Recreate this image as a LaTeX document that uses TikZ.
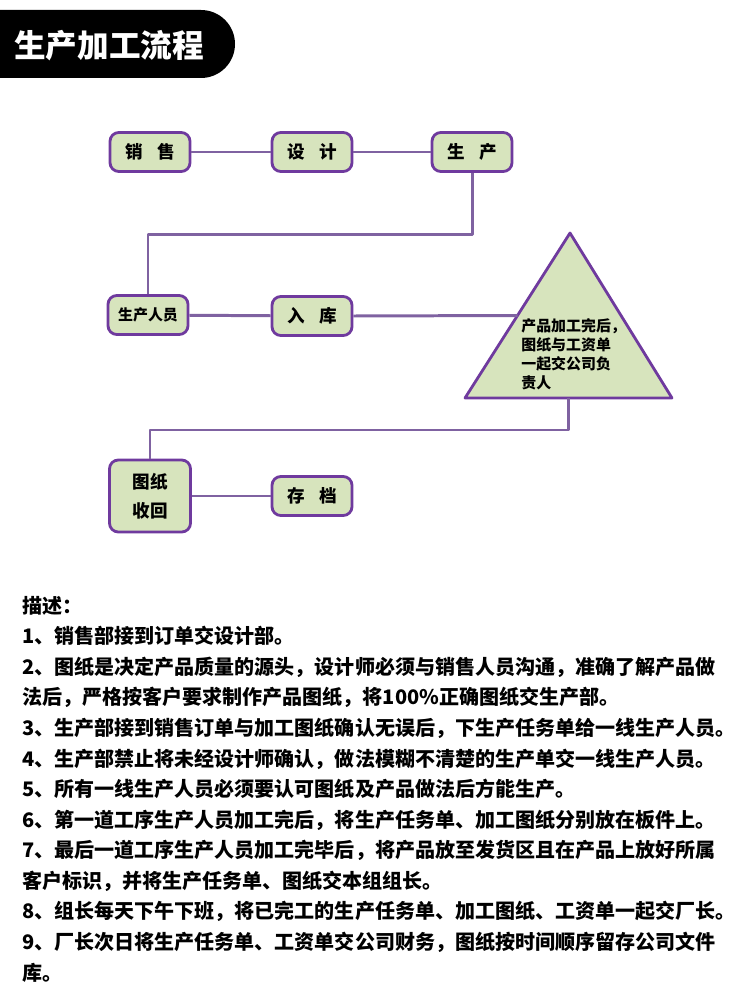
\documentclass[tikz,border=0pt]{standalone}
\usepackage{fontspec}
\setmainfont{Noto Sans CJK SC}
\usepackage{xcolor}
\usepackage{tikz}
\usetikzlibrary{calc,positioning}

\definecolor{boxfill}{HTML}{D7E4BD}
\definecolor{boxline}{HTML}{6F3A9E}
\definecolor{linkline}{HTML}{7F62A1}

\begin{document}
\begin{tikzpicture}[x=0.02cm, y=-0.02cm, line join=round,
		box/.style={draw=boxline, fill=boxfill, line width=1.6pt, rounded corners=5pt,
			minimum width=1.6cm, minimum height=0.78cm, inner sep=0pt,
			font=\fontsize{10}{12}\selectfont\bfseries},
		trishape/.style={draw=boxline, fill=boxfill, line width=1.6pt},
		link/.style={draw=linkline, line width=1.7pt}]
		
		\useasboundingbox (0,0) rectangle (750,1000);
		
		% =========================================================
		% Title bar
		% =========================================================
		\fill[black] (0,10) -- (201,10) arc[start angle=-90,end angle=90,radius=34] -- (0,78) -- cycle;
		\node[text=white, font=\fontsize{18}{20}\selectfont\bfseries] (title) at (109,46) {生产加工流程};
		
		% =========================================================
		% Flow chart
		% =========================================================
		% Row 1
		\node[box] (xiaoshou) at (150,152) {销\hspace{0.8em}售};
		\node[box] (sheji) at (312,152) {设\hspace{0.8em}计};
		\node[box] (shengchan) at (472,152) {生\hspace{0.8em}产};
		
		% Row 2
		\node[box, font=\fontsize{8.5}{10}\selectfont\bfseries] (renyuan) at (148,315) {生产人员};
		\node[box] (ruku) at (312,316) {入\hspace{0.8em}库};
		
		% Triangle vertices
		\coordinate (apex) at (570,233);
		\coordinate (bl) at (465,398);
		\coordinate (br) at (672,398);
		\draw[trishape] (apex) -- (br) -- (bl) -- cycle;
		\coordinate (triL) at ($(apex)!0.5!(bl)$);
		\coordinate (triB) at ($(bl)!0.5!(br)$);
		\node[anchor=north west, align=left, inner sep=0pt, font=\fontsize{8.5}{10.8}\selectfont\bfseries] (tritext) at (521,318)
		{产品加工完后，\\图纸与工资单\\一起交公司负\\责人};
		
		% Row 3
		\node[box, minimum width=1.62cm, minimum height=1.44cm, align=center,
		font=\fontsize{10}{16.5}\selectfont\bfseries] (tuzhi) at (150,496) {图纸\\收回};
		\node[box] (cundang) at (312,496) {存\hspace{0.8em}档};
		
		% Connectors
		\draw[link] (xiaoshou) -- (sheji);
		\draw[link] (sheji) -- (shengchan);
		\draw[link] (shengchan.south) -- ++(0,62) -| (renyuan.north);
		\draw[link] (renyuan) -- (ruku);
		\draw[link] (ruku.east) -- (triL);
		\draw[link] (triB) -- ++(0,32) -| (tuzhi.north);
		\draw[link] (tuzhi) -- (cundang);
		
		% =========================================================
		% Description
		% =========================================================
		\node[anchor=base west, align=left, inner sep=0pt, font=\fontsize{11.4}{17.4}\selectfont\bfseries] (desc) at (22,980)
		{描述：\\
			1、销售部接到订单交设计部。\\
			2、图纸是决定产品质量的源头，设计师必须与销售人员沟通，准确了解产品做\\
			法后，严格按客户要求制作产品图纸，将100\%正确图纸交生产部。\\
			3、生产部接到销售订单与加工图纸确认无误后，下生产任务单给一线生产人员。\\
			4、生产部禁止将未经设计师确认，做法模糊不清楚的生产单交一线生产人员。\\
			5、所有一线生产人员必须要认可图纸及产品做法后方能生产。\\
			6、第一道工序生产人员加工完后，将生产任务单、加工图纸分别放在板件上。\\
			7、最后一道工序生产人员加工完毕后，将产品放至发货区且在产品上放好所属\\
			客户标识，并将生产任务单、图纸交本组组长。\\
			8、组长每天下午下班，将已完工的生产任务单、加工图纸、工资单一起交厂长。\\
			9、厂长次日将生产任务单、工资单交公司财务，图纸按时间顺序留存公司文件\\
			库。};
		
	\end{tikzpicture}
\end{document}
